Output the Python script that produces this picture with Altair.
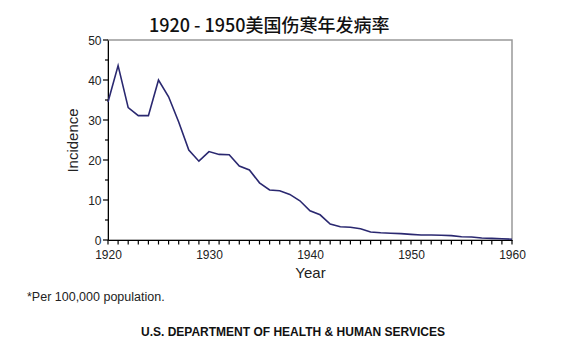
import altair as alt
import pandas as pd

years = list(range(1920, 1961))
incidence = [34.5, 43.6, 33.1, 31.1, 31.1, 40.0, 35.8, 29.5, 22.5, 19.7,
             22.1, 21.4, 21.3, 18.5, 17.5, 14.3, 12.5, 12.3, 11.4, 9.8,
             7.3, 6.3, 4.0, 3.3, 3.2, 2.8, 2.0, 1.8, 1.7, 1.6,
             1.4, 1.25, 1.25, 1.2, 1.1, 0.8, 0.75, 0.5, 0.4, 0.3, 0.2]

title_text = "1920 - 1950美国伤寒年发病率"
footnote_text = "*Per 100,000 population."
source_text = "U.S. DEPARTMENT OF HEALTH & HUMAN SERVICES"
x_ticks = list(range(1920, 1961))
x_labels = list(range(1920, 1961, 10))
y_major = list(range(0, 51, 10))
y_minor = list(range(5, 50, 10))

df = pd.DataFrame({"Year": years, "Incidence": incidence})
notes = pd.DataFrame({"t": [0]})
xt = pd.DataFrame({"Year": x_ticks})
ymaj = pd.DataFrame({"Incidence": y_major})
ymin = pd.DataFrame({"Incidence": y_minor})

FONT = "Liberation Sans"

xscale = alt.Scale(domain=[1920, 1960], nice=False, zero=False)
yscale = alt.Scale(domain=[0, 50], nice=False)

xaxis = alt.Axis(values=x_labels, format="d", ticks=False,
                 labelPadding=9, grid=False, labelOverlap=False,
                 domainColor="#000",
                 labelColor="#222", labelFontSize=12, labelFont=FONT,
                 title="Year", titleFont=FONT, titleFontSize=15,
                 titleFontWeight="normal", titleColor="#222",
                 titlePadding=5, labelFlush=False)
yaxis = alt.Axis(values=y_major, ticks=False,
                 labelPadding=7, grid=False, labelOverlap=False,
                 domainColor="#000",
                 labelColor="#222", labelFontSize=12, labelFont=FONT,
                 title="Incidence", titleFont=FONT, titleFontSize=15,
                 titleFontWeight="normal", titleColor="#222",
                 titlePadding=7)

line = alt.Chart(df).mark_line(color="#2a2870", strokeWidth=1.6).encode(
    x=alt.X("Year:Q", scale=xscale, axis=xaxis),
    y=alt.Y("Incidence:Q", scale=yscale, axis=yaxis),
)

xtick = alt.Chart(xt).mark_rule(color="#000", strokeWidth=1.2).encode(
    x=alt.X("Year:Q", scale=xscale, axis=xaxis),
    y=alt.value(200), y2=alt.value(204.5),
)
ytick_major = alt.Chart(ymaj).mark_rule(color="#000", strokeWidth=1.2).encode(
    y=alt.Y("Incidence:Q", scale=yscale, axis=yaxis),
    x=alt.value(-5), x2=alt.value(0),
)
ytick_minor = alt.Chart(ymin).mark_rule(color="#000", strokeWidth=1.2).encode(
    y=alt.Y("Incidence:Q", scale=yscale, axis=yaxis),
    x=alt.value(-3), x2=alt.value(0),
)

foot = alt.Chart(notes).mark_text(
    align="left", baseline="middle", font=FONT, fontSize=12.5, color="#222"
).encode(x=alt.value(-81), y=alt.value(257), text=alt.value(footnote_text))

source = alt.Chart(notes).mark_text(
    align="center", baseline="middle", font=FONT, fontSize=12, fontWeight="bold", color="#111"
).encode(x=alt.value(185), y=alt.value(292), text=alt.value(source_text))

chart = alt.layer(line, xtick, ytick_major, ytick_minor, foot, source).properties(
    width=404, height=200,
    padding={"left": 100, "top": 32, "right": 57, "bottom": 100},
    autosize=alt.AutoSizeParams(type="none"),
    title=alt.TitleParams(title_text, anchor="start", dx=122, offset=-2,
                          font="Noto Sans CJK SC", fontSize=18, fontWeight=500,
                          color="#111"),
    background="white",
).configure_view(stroke="#999", strokeWidth=1.5)

chart.save("out.html", embed_options={"renderer": "svg", "actions": False})
